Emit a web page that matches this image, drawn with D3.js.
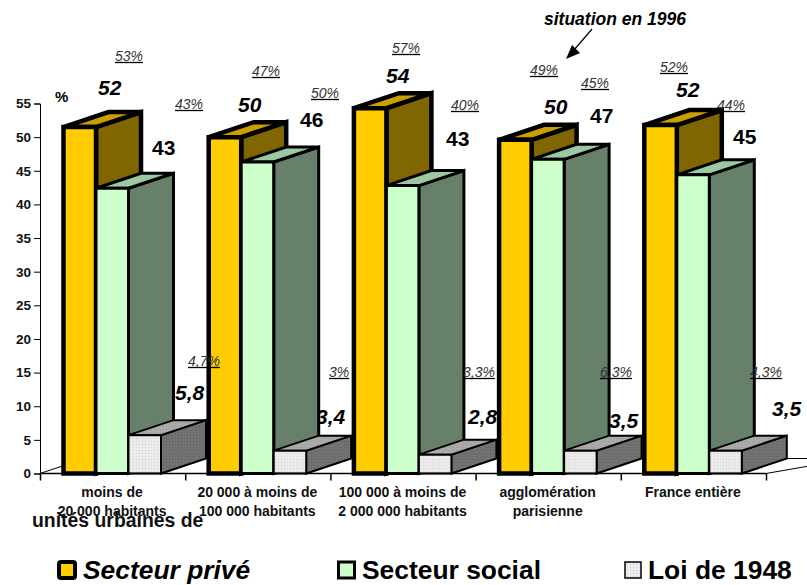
<!DOCTYPE html>
<html>
<head>
<meta charset="utf-8">
<script src="https://cdnjs.cloudflare.com/ajax/libs/d3/7.8.5/d3.min.js"></script>
<style>
    html, body { margin: 0; padding: 0; background: #fff; }
    svg { display: block; }
    text { font-family: 'Liberation Sans', Arial, sans-serif; fill: #000; }
    .tick text { font-size: 13.5px; font-weight: bold; fill: #111; }
    .value { font-size: 21px; font-weight: bold; }
    .share { font-size: 14px; font-style: italic; fill: #333; }
    .category { font-size: 14px; font-weight: bold; fill: #111; text-anchor: middle; }
    .legend { font-size: 26.4px; font-weight: bold; }
</style>
</head>
<body>
<div id="chart"></div>
<script>
const categories = [
    ['moins de', '20 000 habitants'],
    ['20 000 à moins de', '100 000 habitants'],
    ['100 000 à moins de', '2 000 000 habitants'],
    ['agglomération', 'parisienne'],
    ['France entière']
];
const seriesNames = ['Secteur privé', 'Secteur social', 'Loi de 1948'];
const yTicks = [0, 5, 10, 15, 20, 25, 30, 35, 40, 45, 50, 55];

// bar heights as drawn, they sit a bit off the printed labels
const prive = [51.5, 50, 54.3, 49.6, 51.8];
const social = [42.4, 46.3, 42.8, 46.7, 44.4];
const loi1948 = [5.7, 3.4, 2.8, 3.4, 3.4];

const priveLabels = ['52', '50', '54', '50', '52'];
const socialLabels = ['43', '46', '43', '47', '45'];
const loiLabels = ['5,8', '3,4', '2,8', '3,5', '3,5'];

const priveShares = ['53%', '47%', '57%', '49%', '52%'];
const socialShares = ['43%', '50%', '40%', '45%', '44%'];
const loiShares = ['4,7%', '3%', '3,3%', '6,3%', '4,3%'];

// hand placed label anchors, the original labels do not follow the bars
const valueAnchors = [
    [[98, 95], [238, 112], [386, 83], [544, 114], [676, 97]],
    [[152, 155], [300, 127], [446, 146], [590, 123], [733, 144]],
    [[175, 400], [316, 424], [468, 424], [609, 428], [772, 416]]
];
const shareAnchors = [
    [[115, 61], [252, 76], [392, 53], [530, 75], [660, 72]],
    [[175, 109], [311, 98], [451, 110], [581, 88], [717, 110]],
    [[188, 366], [329, 377], [463, 377], [600, 377], [750, 377]]
];

const WIDTH = 807;
const HEIGHT = 585;
const MARGINS = { top: 103.5, bottom: 111.5, left: 40, right: 41 };
const DEPTH = { x: 45, y: 15 };

const barStyles = [
    { front: '#ffcc00', top: '#cc9f00', side: '#806600', stroke: 4.5 },
    { front: '#ccffcc', top: '#9cc8a4', side: '#66806a', stroke: 3 },
    { front: 'url(#dotsLight)', top: 'url(#dotsMid)', side: 'url(#dotsDark)', stroke: 2 }
];

const svg = d3
    .select('#chart')
    .append('svg')
    .attr('width', WIDTH)
    .attr('height', HEIGHT);

// Dotted fills of the Loi de 1948 bars
const defs = svg.append('defs');
[
    ['dotsLight', '#ececec', '#d0d0d0'],
    ['dotsMid', '#ababab', '#959595'],
    ['dotsDark', '#727272', '#606060']
].forEach(([id, base, dot]) => {
    const p = defs
        .append('pattern')
        .attr('id', id)
        .attr('width', 3)
        .attr('height', 3)
        .attr('patternUnits', 'userSpaceOnUse');
    p.append('rect').attr('width', 3).attr('height', 3).attr('fill', base);
    p.append('rect').attr('width', 1).attr('height', 1).attr('fill', dot);
});

const yScale = d3
    .scaleLinear()
    .domain([0, 55])
    .range([HEIGHT - MARGINS.bottom, MARGINS.top]);

const xScale = d3
    .scaleBand()
    .domain(d3.range(categories.length))
    .range([MARGINS.left, WIDTH - MARGINS.right]);

const barScale = d3
    .scaleBand()
    .domain(d3.range(seriesNames.length))
    .range([23.5, 121]);

const y0 = yScale(0);

// Floor of the 3d plot
svg.append('path')
    .attr(
        'd',
        d3.line()([
            [xScale(0), y0],
            [xScale(0) + DEPTH.x, y0 - DEPTH.y],
            [WIDTH + DEPTH.x, y0 - DEPTH.y],
            [WIDTH - MARGINS.right, y0]
        ])
    )
    .attr('fill', '#fff')
    .attr('stroke', '#000')
    .attr('stroke-width', 1);

// Axes
const yAxisEl = svg
    .append('g')
    .attr('transform', `translate(${MARGINS.left}, 0)`)
    .call(d3.axisLeft(yScale).tickValues(yTicks).tickSize(6).tickPadding(3));
yAxisEl.selectAll('path, line').attr('stroke', '#000').attr('stroke-width', 1);

// Value labels of the last series sit behind the next bars
svg.selectAll(null)
    .data(loiLabels)
    .join('text')
    .attr('class', 'value')
    .attr('x', (d, i) => valueAnchors[2][i][0])
    .attr('y', (d, i) => valueAnchors[2][i][1])
    .attr('font-style', 'italic')
    .text((d) => d);

// Bars, group by group so the next group hides the previous depth
const seriesValues = [prive, social, loi1948];
categories.forEach((_, c) => {
    const g = svg.append('g').attr('transform', `translate(${xScale(c)}, 0)`);
    seriesValues.forEach((values, s) => {
        const style = barStyles[s];
        const x0 = barScale(s);
        const x1 = x0 + barScale.bandwidth();
        const yTop = yScale(values[c]);
        const faces = [
            {
                fill: style.side,
                pts: [[x1, yTop], [x1 + DEPTH.x, yTop - DEPTH.y], [x1 + DEPTH.x, y0 - DEPTH.y], [x1, y0]]
            },
            {
                fill: style.top,
                pts: [[x0, yTop], [x0 + DEPTH.x, yTop - DEPTH.y], [x1 + DEPTH.x, yTop - DEPTH.y], [x1, yTop]]
            },
            {
                fill: style.front,
                pts: [[x0, yTop], [x1, yTop], [x1, y0], [x0, y0]]
            }
        ];
        g.selectAll(null)
            .data(faces)
            .join('path')
            .attr('d', (d) => d3.line()(d.pts) + 'Z')
            .attr('fill', (d) => d.fill)
            .attr('stroke', '#000')
            .attr('stroke-width', style.stroke)
            .attr('stroke-linejoin', 'miter');
    });
});

// X axis goes over the bar feet
const xEdges = d3
    .scaleLinear()
    .domain([0, categories.length])
    .range([MARGINS.left, WIDTH - MARGINS.right]);
const xAxisEl = svg
    .append('g')
    .attr('transform', `translate(0, ${y0})`)
    .call(
        d3.axisBottom(xEdges)
            .ticks(categories.length)
            .tickSize(7)
            .tickFormat('')
    );
xAxisEl.selectAll('path, line').attr('stroke', '#000').attr('stroke-width', 1.5);
xAxisEl.select('path').attr('d', `M${MARGINS.left},0H${WIDTH - MARGINS.right}`);

// Category labels
categories.forEach((lines, c) => {
    const cx = xScale(c) + xScale.bandwidth() / 2 - 0.5;
    svg.selectAll(null)
        .data(lines)
        .join('text')
        .attr('class', 'category')
        .attr('x', cx)
        .attr('y', (d, i) => 497 + i * 19)
        .text((d) => d);
});

svg.append('text')
    .attr('x', 32)
    .attr('y', 527)
    .attr('font-size', 19.4)
    .attr('font-weight', 'bold')
    .style('fill', '#111')
    .text('unités urbaines de');

svg.append('text')
    .attr('x', 55)
    .attr('y', 101.5)
    .attr('font-size', 15)
    .attr('font-weight', 'bold')
    .text('%');

// Value labels above the bars
[priveLabels, socialLabels].forEach((labels, s) => {
    svg.selectAll(null)
        .data(labels)
        .join('text')
        .attr('class', 'value')
        .attr('x', (d, i) => valueAnchors[s][i][0])
        .attr('y', (d, i) => valueAnchors[s][i][1])
        .attr('font-style', s === 1 ? 'normal' : 'italic')
        .text((d) => d);
});

// Underlined shares, the line is black while the text is grey
[priveShares, socialShares, loiShares].forEach((labels, s) => {
    labels.forEach((label, i) => {
        const [x, y] = shareAnchors[s][i];
        const t = svg.append('text').attr('class', 'share').attr('x', x).attr('y', y).text(label);
        const w = t.node().getComputedTextLength();
        svg.append('line')
            .attr('x1', x)
            .attr('x2', x + w)
            .attr('y1', y + 1.5)
            .attr('y2', y + 1.5)
            .attr('stroke', '#000')
            .attr('stroke-width', 1.3);
    });
});

// Annotation
svg.append('text')
    .attr('x', 544)
    .attr('y', 25)
    .attr('font-size', 17.5)
    .attr('font-weight', 'bold')
    .attr('font-style', 'italic')
    .text('situation en 1996');
svg.append('line')
    .attr('x1', 592)
    .attr('y1', 29)
    .attr('x2', 574)
    .attr('y2', 50)
    .attr('stroke', '#000')
    .attr('stroke-width', 1.2);
svg.append('path')
    .attr('d', d3.line()([[566, 59], [580, 53], [572, 45]]) + 'Z')
    .attr('fill', '#000');

// Legend
const legendItems = [
    { x: 59, w: 16, fill: '#ffcc00', stroke: 4, rx: 2, tx: 83, italic: true },
    { x: 338.5, w: 16, fill: '#ccffcc', stroke: 3, rx: 0, tx: 362, italic: false },
    { x: 625, w: 16, fill: 'url(#dotsLight)', stroke: 1.5, rx: 0, tx: 648, italic: false }
];
legendItems.forEach((item, i) => {
    svg.append('rect')
        .attr('x', item.x)
        .attr('y', 562)
        .attr('width', item.w)
        .attr('height', 16)
        .attr('rx', item.rx)
        .attr('fill', item.fill)
        .attr('stroke', '#000')
        .attr('stroke-width', item.stroke);
    svg.append('text')
        .attr('class', 'legend')
        .attr('x', item.tx)
        .attr('y', 579)
        .attr('font-style', item.italic ? 'italic' : 'normal')
        .text(seriesNames[i]);
});
</script>
</body>
</html>
